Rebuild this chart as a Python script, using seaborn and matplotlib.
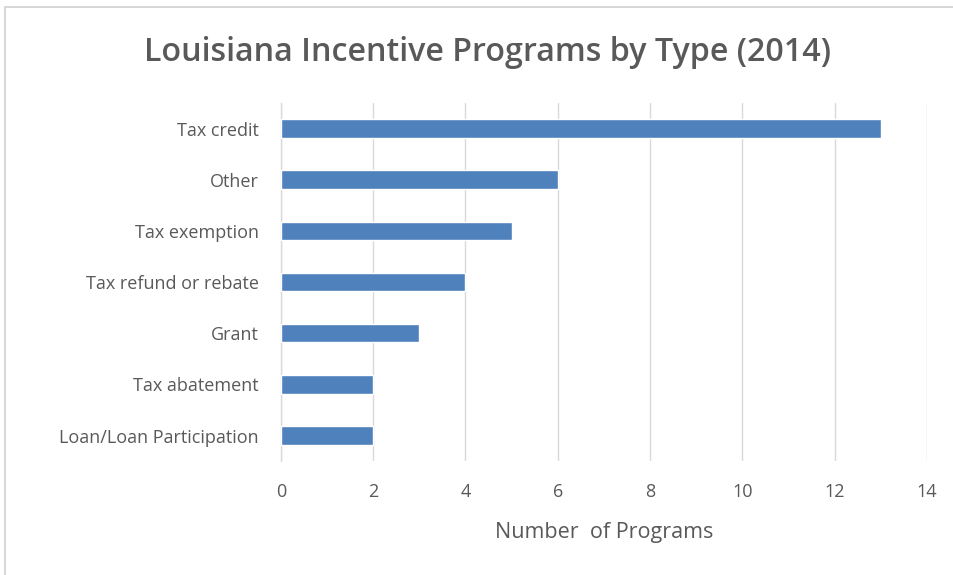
import matplotlib
matplotlib.use("Agg")
import matplotlib.pyplot as plt
import seaborn as sns
import pandas as pd
from matplotlib.patches import Rectangle

categories = ["Tax credit", "Other", "Tax exemption", "Tax refund or rebate",
              "Grant", "Tax abatement", "Loan/Loan Participation"]
values = [13, 6, 5, 4, 3, 2, 2]
xticks = [0, 2, 4, 6, 8, 10, 12, 14]

df = pd.DataFrame({"type": categories, "count": values})

sns.set_theme(style="white")
plt.rcParams["font.family"] = ["Open Sans", "DejaVu Sans"]

fig = plt.figure(figsize=(9.54, 5.75), dpi=100)
ax = fig.add_axes([0.2945, 0.198, 0.677, 0.623])

sns.barplot(data=df, y="type", x="count", orient="h", color="#4F81BD",
            width=0.36, saturation=1, ax=ax, zorder=3)

ax.set_xlim(0, 14)
ax.set_xticks(xticks)
ax.set_xticklabels([str(t) for t in xticks])
ax.grid(axis="x", color="#d9d9d9", linewidth=1, zorder=0)
ax.grid(axis="y", visible=False)
for s in ["top", "right", "bottom"]:
    ax.spines[s].set_visible(False)
ax.spines["left"].set_color("#d9d9d9")
ax.spines["left"].set_linewidth(1)
ax.tick_params(axis="both", length=0, labelsize=13, colors="#595959")
ax.tick_params(axis="x", pad=16)
ax.tick_params(axis="y", pad=16)
ax.set_ylabel("")
ax.set_xlabel("Number  of Programs", fontsize=15.5, color="#595959", labelpad=15)

fig.text(0.511, 0.909, "Louisiana Incentive Programs by Type (2014)",
         ha="center", va="center", fontsize=23.2, color="#595959", weight="semibold")

# chart frame
fig.patches.append(Rectangle((5/954, -0.01), 1.0, 1 - 7/575 + 0.01, transform=fig.transFigure,
                             fill=False, edgecolor="#d0d0d0", linewidth=1.2))

fig.savefig("out.png", dpi=100)
